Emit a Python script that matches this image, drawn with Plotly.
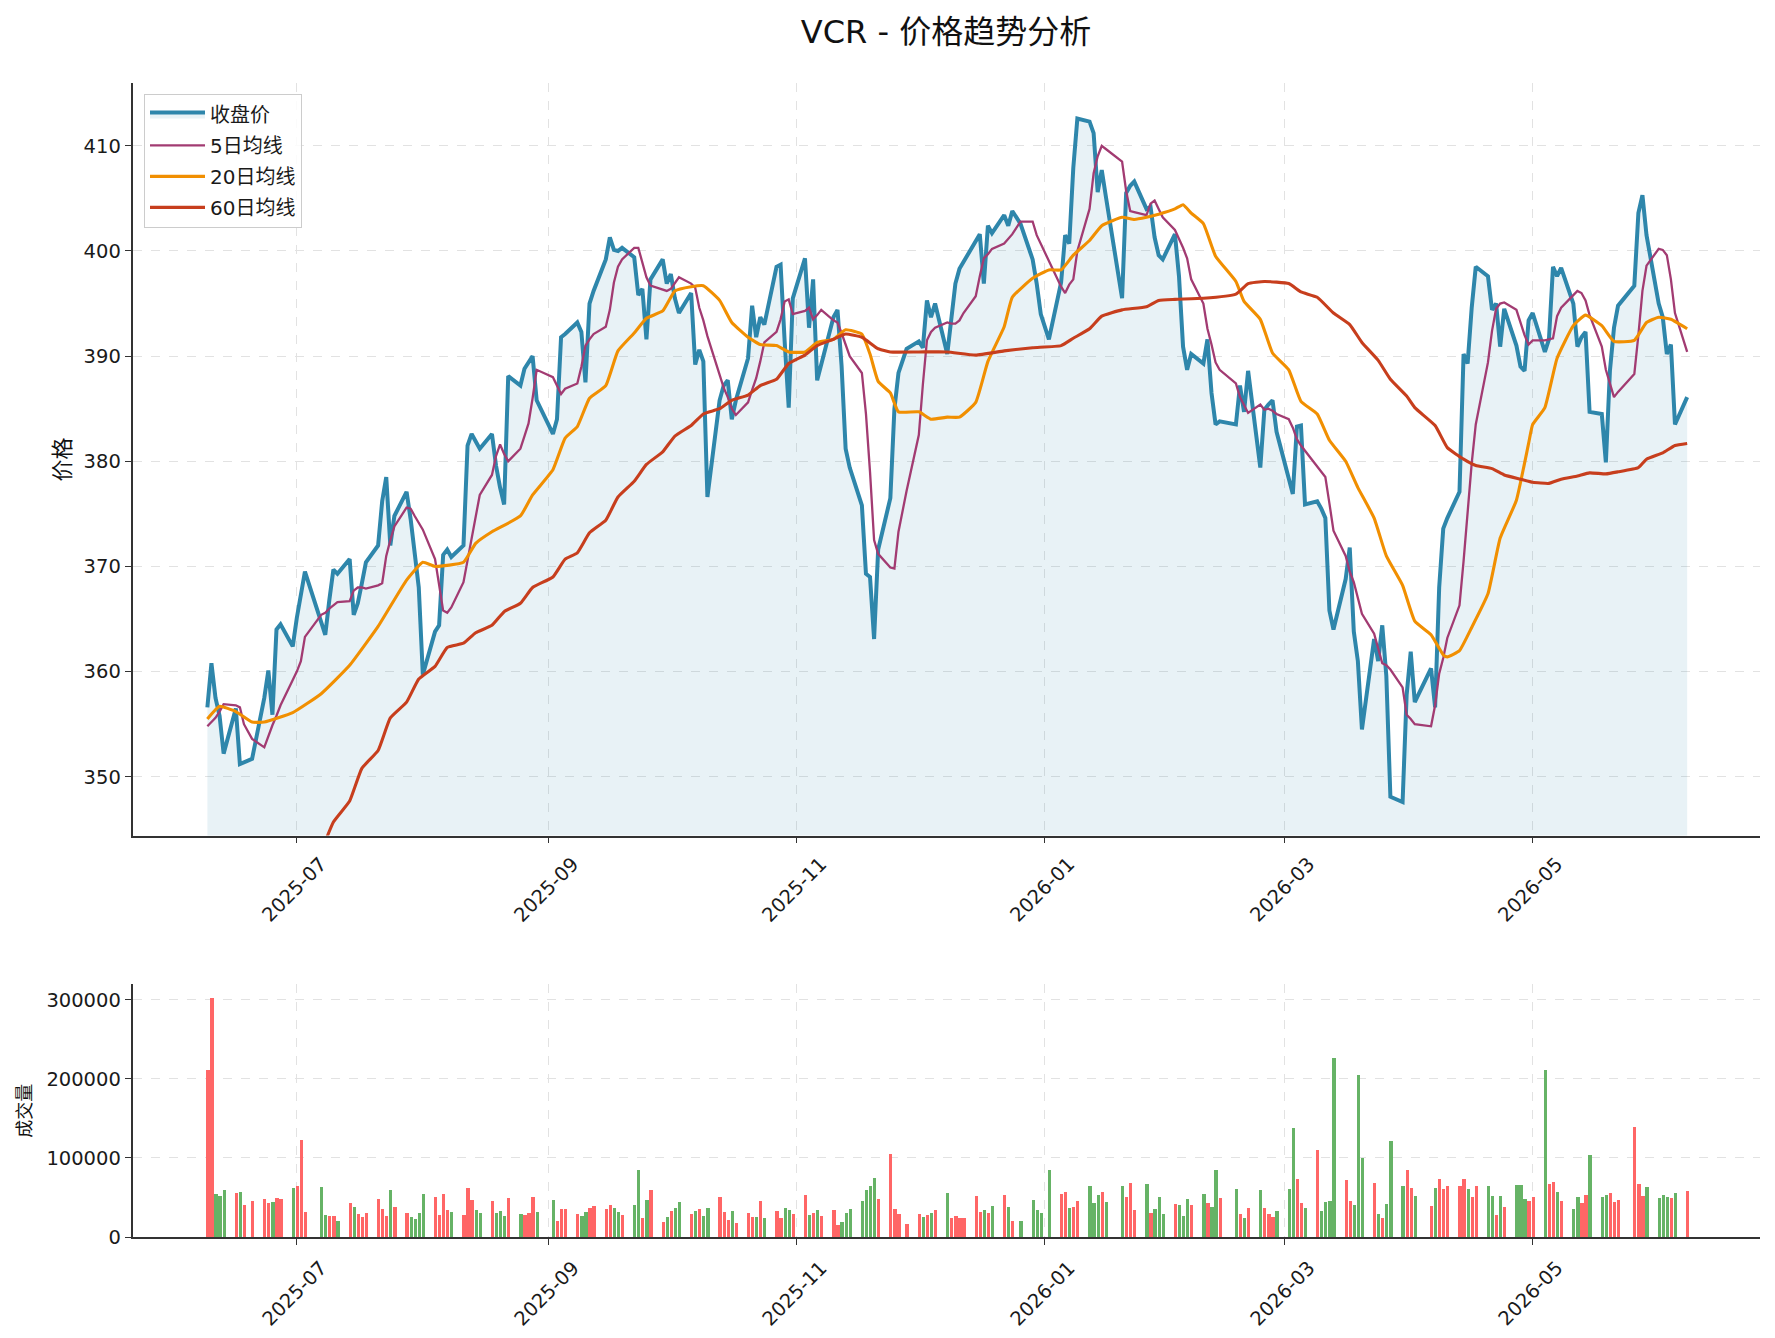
import pandas as pd
import plotly.graph_objects as go

# ---------------- calendar (US trading days shown in the chart) ----------------
holidays = ["2025-06-19", "2025-07-04", "2025-09-01", "2025-11-27", "2025-12-25",
            "2026-01-01", "2026-01-19", "2026-02-16", "2026-04-03", "2026-05-25"]
trade_dates = pd.bdate_range("2025-06-09", "2026-06-08")
trade_dates = trade_dates[~trade_dates.isin(pd.to_datetime(holidays))]

# ---------------- data ----------------
close = [
    356.6, 360.8, 357.5, 355.8, 352.2,
    356.5, 351.2, 351.4, 351.7,
    357.5, 360.1, 355.9, 364.0, 364.5,
    362.4, 365.1, 367.4, 369.5,
    364.7, 363.5, 366.8, 369.7, 369.3,
    370.7, 365.4, 366.5, 368.4, 370.4,
    372.0, 376.2, 378.5, 372.0, 374.8,
    377.1, 374.5, 371.5, 368.0, 359.7,
    363.8, 364.4, 371.1, 371.6, 370.9,
    372.0, 381.5, 382.6, 381.8, 381.2,
    382.6, 379.6, 377.5, 375.9, 388.1,
    387.2, 388.8, 389.4, 390.0, 385.8,
    382.6, 384.0, 391.8, 392.1,
    393.2, 392.3, 387.5, 395.0, 396.2,
    399.2, 401.3, 400.1, 400.0, 400.3,
    399.4, 395.8, 396.4, 391.6, 397.3,
    399.2, 396.9, 397.8, 395.5, 394.1,
    396.0, 389.2, 390.6, 389.5, 376.6,
    385.8, 387.2, 387.7, 384.0, 385.8,
    389.8, 394.8, 391.8, 393.7, 393.0,
    398.5, 398.7, 391.4, 385.1, 395.5,
    399.3, 392.7, 397.3, 387.7, 389.3,
    393.7, 394.4, 389.1, 381.2, 379.4,
    375.8, 369.3, 369.0, 363.1, 371.6,
    376.5, 385.0, 388.4, 390.7,
    391.4, 390.8, 395.3, 393.7, 395.0,
    390.2, 393.8, 396.9, 398.3, 399.0,
    401.0, 401.6, 396.9, 402.4, 401.7,
    403.4, 402.4, 403.8, 402.6,
    399.2, 396.9, 394.0, 391.6,
    397.0, 401.5, 400.7, 407.9, 412.6,
    412.3, 411.2, 405.6, 407.7, 405.2,
    395.5, 405.5, 406.2, 406.6,
    404.0, 404.2, 401.3, 399.6, 399.2,
    401.6, 397.6, 390.9, 388.7, 390.2,
    389.3, 391.6, 386.5, 383.5, 383.8,
    383.5, 387.2, 384.7, 388.6,
    379.4, 384.9, 385.4, 385.8, 382.8,
    378.5, 376.9, 383.3, 383.4, 375.9,
    376.2, 375.5, 374.6, 365.8, 364.0,
    368.8, 371.8, 363.8, 361.0, 354.5,
    363.1, 361.0, 364.4, 359.6, 348.1,
    347.6, 357.8, 361.9, 357.1,
    360.3, 356.6, 368.0, 373.6, 374.6,
    377.1, 390.2, 389.3, 394.6, 398.5,
    397.6, 394.4, 395.0, 390.9, 394.5,
    391.0, 389.0, 388.6, 393.4, 394.1,
    390.4, 391.6, 398.5, 397.6, 398.4,
    395.0, 390.9, 391.8, 392.3, 384.7,
    384.5, 379.9, 388.6, 392.7, 394.8,
    396.7, 403.6, 405.3, 401.5,
    395.0, 393.7, 390.2, 391.1, 383.5,
    386.1,
]

ma5 = [
    354.8, 355.2, 355.6, 356.2, 356.9,
    356.8, 356.6, 355.0, 353.6,
    352.8, 353.9, 354.9, 355.8, 356.8,
    359.2, 360.0, 361.0, 363.3,
    365.4, 365.6, 366.0, 366.3, 366.6,
    366.7, 367.7, 368.0, 368.0, 367.9,
    368.2, 368.4, 371.0, 372.5, 373.8,
    375.6, 375.5, 374.8, 374.1, 373.5,
    370.7, 368.3, 365.8, 365.6, 366.1,
    368.5, 370.6, 372.7, 374.7, 376.8,
    378.7, 380.5, 381.6, 380.7, 380.0,
    381.2, 382.4, 383.6, 386.0, 388.7,
    388.0, 387.2, 386.4, 386.9,
    387.4, 389.0, 391.0, 391.6, 392.1,
    392.8, 394.4, 397.0, 398.5, 399.2,
    400.3, 400.3, 399.0, 397.5, 396.7,
    396.3, 396.2, 396.4, 397.0, 397.5,
    396.9, 396.5, 394.6, 393.4, 391.9,
    388.2, 387.0, 386.1, 385.0, 384.4,
    385.6, 386.8, 387.9, 389.5, 391.3,
    392.3, 393.5, 395.2, 395.4, 394.0,
    394.3, 394.6, 393.5, 393.9, 394.4,
    393.4, 393.2, 392.2, 391.1, 390.0,
    388.4, 384.5, 379.0, 372.5, 371.2,
    369.9, 369.8, 373.3, 377.2,
    382.5, 387.3, 391.5, 392.3, 392.7,
    393.2, 393.1, 393.1, 393.4, 394.1,
    395.7, 397.6, 399.3, 399.7, 400.2,
    400.7, 401.1, 401.6, 402.8,
    402.8, 401.5, 400.7, 399.0,
    396.6, 396.0, 396.8, 397.3, 400.0,
    404.0, 407.4, 409.0, 410.0, 409.7,
    408.5, 405.7, 403.8, 403.7,
    403.4, 404.5, 404.8, 404.0, 403.2,
    402.0, 401.2, 400.3, 399.3, 397.3,
    395.0, 392.6, 391.1, 389.4, 388.7,
    387.4, 386.1, 385.4, 384.6,
    385.4, 384.9, 385.0, 384.8, 384.5,
    384.0, 383.2, 382.1, 381.5, 381.0,
    379.4, 378.9, 378.5, 376.0, 373.4,
    371.0, 369.5, 368.5, 366.9, 365.5,
    363.6, 362.3, 360.8, 360.6, 360.2,
    358.5, 355.9, 355.5, 355.0,
    354.8, 356.8, 359.8, 361.3, 363.2,
    366.3, 370.5, 375.2, 379.8, 383.5,
    389.4, 392.4, 394.5, 395.0, 395.1,
    394.4, 393.2, 392.0, 391.1, 391.5,
    391.5, 391.6, 391.7, 393.8, 394.6,
    395.8, 396.2, 396.0, 395.3, 393.9,
    390.9, 388.7, 387.3, 386.1, 386.6,
    388.3, 392.0, 396.2, 398.6,
    400.2, 400.1, 399.6, 397.3, 394.1,
    390.4,
]

volume_thousands = [
    211, 302, 54.7, 52, 59.7,
    56, 57, 40.8, 45.9,
    48.4, 43.3, 44.6, 49.6, 48.4,
    62.3, 64.8, 122.8, 32,
    63.5, 28.2, 26.9, 26.9, 20.6,
    43.3, 38.3, 29.4, 25.7, 30.7,
    48.4, 35.8, 26.9, 59.7, 38.3,
    30.7, 25.7, 23.1, 30.7, 54.7,
    50.9, 28.2, 54.7, 34.5, 32,
    28.2, 62.3, 47.1, 34.5, 30.7,
    45.9, 30.7, 33.2, 26.9, 49.6,
    29.4, 28.2, 30.7, 50.9, 32,
    47.1, 20.6, 35.8, 35.8,
    29.4, 26.9, 32, 37, 39.5,
    35.8, 40.8, 37, 32, 28.2,
    40.8, 85, 24.4, 47.1, 59.7,
    19.4, 25.7, 33.2, 37, 44.6,
    29.4, 33.2, 35.8, 26.9, 37,
    50.9, 32, 21.9, 33.2, 18.1,
    30.7, 25.7, 25.7, 45.9, 24.4,
    33.2, 24.4, 37, 34.5, 29.4,
    53.4, 28.2, 30.7, 34.5, 26.9,
    34.5, 15.6, 19.4, 30.7, 35.8,
    45.9, 59.7, 64.8, 74.9, 48.4,
    105.2, 35.8, 29.4, 16.8,
    29.4, 25.7, 28.2, 30.7, 34.5,
    56, 24.4, 26.9, 24.4, 24.4,
    52.2, 32, 34.5, 30.7, 39.5,
    53.4, 38.3, 20.6, 20.6,
    47.1, 34.5, 30.7, 85,
    54.7, 57.2, 37, 38.3, 45.9,
    64.8, 43.3, 53.4, 57.2, 44.6,
    64.8, 50.9, 68.6, 34.5,
    67.3, 30.7, 35.8, 50.9, 29.4,
    42.1, 40.8, 26.9, 48.4, 40.8,
    54.7, 43.3, 38.3, 85, 49.6,
    61, 29.4, 24.4, 37,
    59.7, 37, 29.4, 25.7, 33.2,
    61, 138, 73.6, 43.3, 37,
    110.2, 33.2, 44.6, 45.9, 226.3,
    72.4, 45.9, 40.8, 204.9, 100.1,
    68.6, 29.4, 24.4, 42.1, 121.6,
    64.8, 85, 62.3, 52.2,
    39.5, 62.3, 73.6, 61, 64.8,
    64.8, 73.6, 61, 50.9, 64.8,
    64.8, 52.2, 28.2, 52.2, 38.3,
    66, 66, 48.4, 45.9, 50.9,
    211, 67.3, 69.8, 57.2, 45.9,
    35.8, 50.9, 43.3, 53.4, 103.9,
    50.9, 53.4, 56, 44.6, 47.1,
    139.3, 67.3, 52.2, 63.5,
    49.6, 53.4, 50.9, 49.6, 56,
    58.5,
]

# 1 = close up (red bar), 0 = close down (green bar)
vol_up = [
    1, 1, 0, 0, 0,
    1, 0, 1, 1,
    1, 1, 0, 1, 1,
    0, 1, 1, 1,
    0, 0, 1, 1, 0,
    1, 0, 1, 1, 1,
    1, 1, 1, 0, 1,
    1, 0, 0, 0, 0,
    1, 1, 1, 1, 0,
    1, 1, 1, 0, 0,
    1, 0, 0, 0, 1,
    0, 1, 1, 1, 0,
    0, 1, 1, 1,
    1, 0, 0, 1, 1,
    1, 1, 0, 0, 1,
    0, 0, 1, 0, 1,
    1, 0, 1, 0, 0,
    1, 0, 1, 0, 0,
    1, 1, 1, 0, 1,
    1, 1, 0, 1, 0,
    1, 1, 0, 0, 1,
    1, 0, 1, 0, 1,
    1, 1, 0, 0, 0,
    0, 0, 0, 0, 1,
    1, 1, 1, 1,
    1, 0, 1, 0, 1,
    0, 1, 1, 1, 1,
    1, 1, 0, 1, 0,
    1, 0, 1, 0,
    0, 0, 0, 0,
    1, 1, 0, 1, 1,
    0, 0, 0, 1, 0,
    0, 1, 1, 1,
    0, 1, 0, 0, 0,
    1, 0, 0, 0, 1,
    0, 1, 0, 0, 1,
    0, 1, 0, 1,
    0, 1, 1, 1, 0,
    0, 0, 1, 1, 0,
    1, 0, 0, 0, 0,
    1, 1, 0, 0, 0,
    1, 0, 1, 0, 0,
    0, 1, 1, 0,
    1, 0, 1, 1, 1,
    1, 1, 0, 1, 1,
    0, 0, 1, 0, 1,
    0, 0, 0, 1, 1,
    0, 1, 1, 0, 1,
    0, 0, 1, 1, 0,
    0, 0, 1, 1, 1,
    1, 1, 1, 0,
    0, 0, 0, 1, 0,
    1,
]

ma20_dates = [
    "2025-06-09", "2025-06-12", "2025-06-16", "2025-06-20", "2025-06-23", "2025-06-30",
    "2025-07-07", "2025-07-14", "2025-07-21", "2025-07-28", "2025-08-01", "2025-08-04",
    "2025-08-11", "2025-08-14", "2025-08-18", "2025-08-25", "2025-08-28", "2025-09-02",
    "2025-09-05", "2025-09-08", "2025-09-11", "2025-09-15", "2025-09-18", "2025-09-22",
    "2025-09-25", "2025-09-29", "2025-10-02", "2025-10-06", "2025-10-09", "2025-10-13",
    "2025-10-16", "2025-10-20", "2025-10-23", "2025-10-27", "2025-10-30", "2025-11-03",
    "2025-11-06", "2025-11-10", "2025-11-13", "2025-11-17", "2025-11-19", "2025-11-21",
    "2025-11-24", "2025-11-26", "2025-12-01", "2025-12-04", "2025-12-08", "2025-12-11",
    "2025-12-15", "2025-12-18", "2025-12-22", "2025-12-24", "2025-12-29", "2026-01-02",
    "2026-01-05", "2026-01-08", "2026-01-12", "2026-01-15", "2026-01-20", "2026-01-23",
    "2026-01-26", "2026-01-29", "2026-02-02", "2026-02-04", "2026-02-06", "2026-02-09",
    "2026-02-12", "2026-02-17", "2026-02-19", "2026-02-23", "2026-02-26", "2026-03-02",
    "2026-03-05", "2026-03-09", "2026-03-12", "2026-03-16", "2026-03-19", "2026-03-23",
    "2026-03-26", "2026-03-30", "2026-04-02", "2026-04-06", "2026-04-09", "2026-04-10",
    "2026-04-13", "2026-04-16", "2026-04-20", "2026-04-23", "2026-04-27", "2026-04-30",
    "2026-05-01", "2026-05-04", "2026-05-07", "2026-05-11", "2026-05-14", "2026-05-18",
    "2026-05-21", "2026-05-26", "2026-05-29", "2026-06-01", "2026-06-04", "2026-06-08",
]
ma20 = [
    355.5, 356.7, 356.2, 355.2, 355.2, 356.1,
    357.9, 360.6, 364.3, 368.7, 370.4, 370.0,
    370.4, 372.2, 373.3, 374.8, 376.8, 379.2,
    382.2, 383.3, 386.0, 387.2, 390.5, 392.2,
    393.6, 394.3, 396.2, 396.6, 396.7, 395.3,
    393.2, 391.8, 391.1, 391.0, 390.4, 390.4,
    391.3, 391.6, 392.5, 392.1, 390.2, 387.6,
    386.5, 384.7, 384.7, 384.0, 384.2, 384.2,
    385.6, 389.5, 392.8, 395.6, 397.4, 398.2,
    398.2, 399.6, 401.0, 402.4, 403.2, 403.0,
    403.2, 403.5, 404.0, 404.4, 403.6, 402.6,
    399.5, 397.1, 395.2, 393.5, 390.3, 388.7,
    385.7, 384.5, 382.0, 380.0, 377.5, 374.6,
    371.0, 368.2, 364.8, 363.5, 361.6, 361.4,
    362.0, 364.2, 367.4, 372.7, 376.3, 381.7,
    383.5, 385.1, 389.8, 392.9, 393.9, 392.9,
    391.4, 391.5, 393.2, 393.7, 393.5, 392.6,
]

ma60_dates = [
    "2025-07-03", "2025-07-07", "2025-07-10", "2025-07-14", "2025-07-17", "2025-07-21",
    "2025-07-24", "2025-07-28", "2025-07-31", "2025-08-04", "2025-08-07", "2025-08-11",
    "2025-08-14", "2025-08-18", "2025-08-21", "2025-08-25", "2025-08-28", "2025-09-02",
    "2025-09-05", "2025-09-08", "2025-09-11", "2025-09-15", "2025-09-18", "2025-09-22",
    "2025-09-25", "2025-09-29", "2025-10-02", "2025-10-06", "2025-10-09", "2025-10-13",
    "2025-10-16", "2025-10-20", "2025-10-23", "2025-10-27", "2025-10-30", "2025-11-03",
    "2025-11-06", "2025-11-10", "2025-11-13", "2025-11-17", "2025-11-21", "2025-11-24",
    "2025-12-01", "2025-12-08", "2025-12-15", "2025-12-22", "2025-12-29", "2026-01-05",
    "2026-01-08", "2026-01-12", "2026-01-15", "2026-01-20", "2026-01-26", "2026-01-29",
    "2026-02-02", "2026-02-09", "2026-02-17", "2026-02-20", "2026-02-24", "2026-03-02",
    "2026-03-05", "2026-03-09", "2026-03-13", "2026-03-17", "2026-03-20", "2026-03-24",
    "2026-03-27", "2026-03-31", "2026-04-02", "2026-04-07", "2026-04-10", "2026-04-14",
    "2026-04-17", "2026-04-21", "2026-04-24", "2026-04-28", "2026-05-01", "2026-05-05",
    "2026-05-08", "2026-05-12", "2026-05-15", "2026-05-19", "2026-05-22", "2026-05-27",
    "2026-05-29", "2026-06-02", "2026-06-05", "2026-06-08",
]
ma60 = [
    339.3, 342.9, 345.7, 347.7, 350.8, 352.5,
    355.6, 357.1, 359.3, 360.5, 362.3, 362.7,
    363.7, 364.4, 365.7, 366.5, 368.0, 369.0,
    370.7, 371.3, 373.2, 374.4, 376.6, 378.1,
    379.7, 380.9, 382.4, 383.4, 384.5, 385.0,
    385.8, 386.3, 387.2, 387.8, 389.3, 390.1,
    391.0, 391.6, 392.1, 391.8, 390.7, 390.4,
    390.4, 390.4, 390.1, 390.5, 390.8, 391.0,
    391.7, 392.6, 393.8, 394.4, 394.7, 395.3,
    395.4, 395.5, 395.9, 396.9, 397.1, 396.9,
    396.1, 395.6, 394.1, 393.0, 391.3, 389.6,
    387.8, 386.2, 385.1, 383.4, 381.3, 380.2,
    379.6, 379.3, 378.7, 378.3, 378.0, 377.9,
    378.3, 378.6, 378.9, 378.8, 379.0, 379.4,
    380.2, 380.8, 381.5, 381.7,
]

tick_dates = ["2025-07-01", "2025-09-01", "2025-11-01", "2026-01-01", "2026-03-01", "2026-05-01"]
tick_labels = ["2025-07", "2025-09", "2025-11", "2026-01", "2026-03", "2026-05"]
price_ticks = [350, 360, 370, 380, 390, 400, 410]
volume_ticks = [0, 100000, 200000, 300000]

assert len(trade_dates) == len(close) == len(ma5) == len(volume_thousands) == len(vol_up)
assert len(ma20_dates) == len(ma20) and len(ma60_dates) == len(ma60)

# ---------------- figure ----------------
W, H = 1775, 1338
H_EFF = 1327.5          # vertical extent the page actually lays the figure out on
FONT = "DejaVu Sans, Noto Sans CJK SC, sans-serif"
TXT = "#1a1a1a"
GRID = "#e2e2e2"
TICK_SIZE = 19.5


def px_x(p):
    return p / W


def px_y(p):
    return 1 - p / H_EFF


volume = [v * 1000 for v in volume_thousands]
bar_colors = ["#ff6666" if u else "#66b366" for u in vol_up]

fig = go.Figure()
fig.add_trace(go.Scatter(x=trade_dates, y=close, mode="lines", name="收盘价",
                         line=dict(color="#2E86AB", width=4),
                         fill="tozeroy", fillcolor="rgba(46,134,171,0.11)",
                         legendgroup="g1", xaxis="x", yaxis="y"))
fig.add_trace(go.Scatter(x=trade_dates, y=ma5, mode="lines", name="5日均线",
                         line=dict(color="#A23B72", width=2.3),
                         legendgroup="g2", xaxis="x", yaxis="y"))
fig.add_trace(go.Scatter(x=ma20_dates, y=ma20, mode="lines", name="20日均线",
                         line=dict(color="#F18F01", width=3.1, shape="spline", smoothing=0.4),
                         legendgroup="g3", xaxis="x", yaxis="y"))
fig.add_trace(go.Scatter(x=ma60_dates, y=ma60, mode="lines", name="60日均线",
                         line=dict(color="#C73E1D", width=3.1, shape="spline", smoothing=0.4),
                         legendgroup="g4", xaxis="x", yaxis="y"))
fig.add_trace(go.Bar(x=trade_dates, y=volume, marker=dict(color=bar_colors, line=dict(width=0)),
                     width=0.8 * 86400000, showlegend=False, xaxis="x2", yaxis="y2"))

x_dom = [px_x(132.5), px_x(1760)]
x_range = ["2025-05-21 14:00", "2026-06-25 22:00"]
common_x = dict(type="date", range=x_range, domain=x_dom, tickvals=tick_dates,
                showticklabels=False, ticks="outside", ticklen=6, tickwidth=1.4,
                tickcolor="#333333", showline=True, linecolor="#333333", linewidth=1.5,
                showgrid=True, gridcolor=GRID, gridwidth=1.2, griddash="dash",
                zeroline=False)
common_y = dict(ticks="outside", ticklen=6, tickwidth=1.4, tickcolor="#333333",
                showline=True, linecolor="#333333", linewidth=1.5,
                showgrid=True, gridcolor=GRID, gridwidth=1.2, griddash="dash",
                zeroline=False, tickfont=dict(family=FONT, size=TICK_SIZE, color=TXT))

fig.update_layout(
    width=W, height=H, margin=dict(l=0, r=0, t=0, b=0),
    paper_bgcolor="white", plot_bgcolor="white",
    font=dict(family=FONT, color=TXT),
    title=dict(text="VCR - 价格趋势分析", x=px_x(946), y=px_y(32), xanchor="center",
               yanchor="middle", font=dict(family=FONT, size=32, color="#111111")),
    xaxis=dict(anchor="y", **common_x),
    xaxis2=dict(anchor="y2", **common_x),
    yaxis=dict(anchor="x", domain=[px_y(836.5), px_y(82.6)], range=[344.41, 416.02],
               tickvals=price_ticks, **common_y),
    yaxis2=dict(anchor="x2", domain=[px_y(1238.5), px_y(985)], range=[0, 320000],
                tickvals=volume_ticks, tickformat="d", **common_y),
    legend=dict(x=px_x(144), y=px_y(94), xanchor="left", yanchor="top",
                bgcolor="rgba(255,255,255,0.85)", bordercolor="#cccccc", borderwidth=1,
                font=dict(family=FONT, size=20, color=TXT), tracegroupgap=2,
                itemwidth=55),
    showlegend=True,
    bargap=0,
)

annotations = []
for d, lab in zip(tick_dates, tick_labels):
    for yc in (891, 1295):
        annotations.append(dict(x=d, y=px_y(yc), xref="x", yref="paper", text=lab,
                                textangle=-45, showarrow=False, xanchor="center",
                                yanchor="middle", xshift=-2,
                                font=dict(family=FONT, size=TICK_SIZE, color=TXT)))
annotations.append(dict(x=px_x(62), y=px_y(460), xref="paper", yref="paper", text="价格",
                        textangle=-90, showarrow=False, xanchor="center", yanchor="middle",
                        font=dict(family=FONT, size=22, color="#111111")))
annotations.append(dict(x=px_x(25), y=px_y(1112), xref="paper", yref="paper", text="成交量",
                        textangle=-90, showarrow=False, xanchor="center", yanchor="middle",
                        font=dict(family=FONT, size=18, color="#111111")))
fig.update_layout(annotations=annotations)

fig.write_html("out.html")
